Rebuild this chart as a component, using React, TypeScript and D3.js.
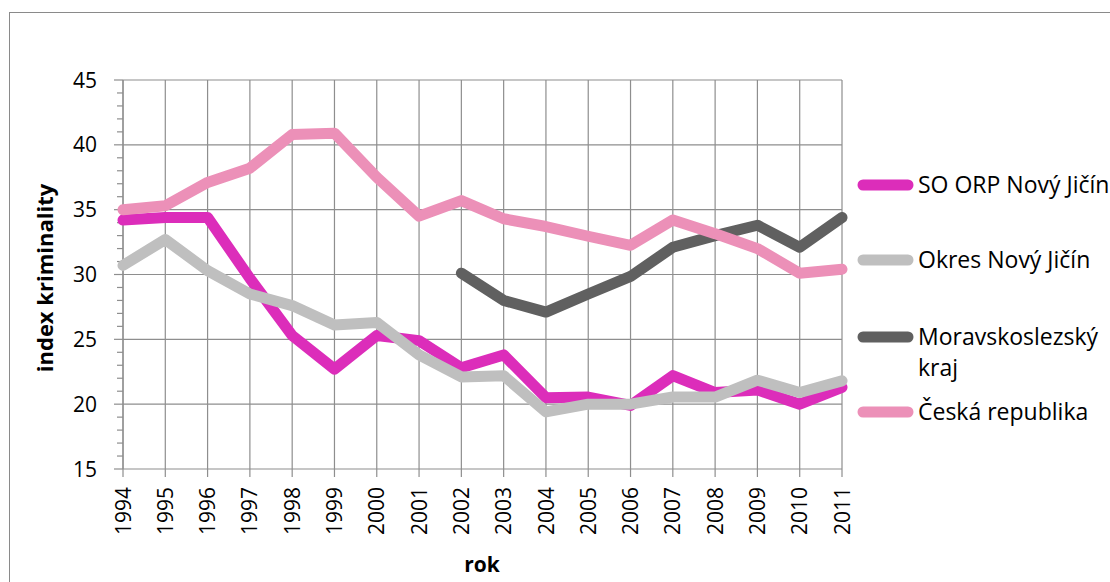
import React from 'react';
import * as d3 from 'd3';

const years = ['1994', '1995', '1996', '1997', '1998', '1999', '2000', '2001', '2002', '2003', '2004', '2005', '2006', '2007', '2008', '2009', '2010', '2011'];

const soOrp = [34.2, 34.4, 34.4, 29.7, 25.3, 22.7, 25.3, 24.9, 22.8, 23.8, 20.5, 20.55, 19.9, 22.2, 20.9, 21.1, 20.0, 21.3];
const okres = [30.7, 32.7, 30.3, 28.5, 27.6, 26.1, 26.3, 23.8, 22.1, 22.2, 19.4, 20.0, 20.0, 20.55, 20.55, 21.85, 20.9, 21.8];
const msKraj: (number | null)[] = [null, null, null, null, null, null, null, null, 30.1, 28.0, 27.1, 28.5, 29.85, 32.1, 33.0, 33.8, 32.1, 34.4];
const ceskaRep = [35.0, 35.3, 37.1, 38.2, 40.8, 40.9, 37.5, 34.5, 35.7, 34.3, 33.7, 32.95, 32.25, 34.2, 33.15, 32.0, 30.1, 30.4];

const seriesNames = ['SO ORP Nový Jičín', 'Okres Nový Jičín', 'Moravskoslezský kraj', 'Česká republika'];
const seriesColors = ['#DC2DBA', '#BFBFBF', '#606060', '#EC90B8'];
const yTicks = [15, 20, 25, 30, 35, 40, 45];

const FONT = '"Open Sans", Lato, sans-serif';

export default function App() {
  const width = 1110;
  const height = 582;
  const left = 123, right = 842, top = 80, bottom = 469;

  const x = d3.scalePoint<string>().domain(years).range([left, right]);
  const y = d3.scaleLinear().domain([15, 45]).range([bottom, top]);

  const all = [soOrp, okres, msKraj, ceskaRep];
  const line = d3.line<number | null>()
    .defined(d => d != null)
    .x((_, i) => x(years[i]) as number)
    .y(d => y(d as number));

  const minorTicks = d3.range(15, 45.01, 1);
  const legendY = [185, 260, 337, 412];

  return (
    <svg width={width} height={height} style={{ position: 'absolute', left: 0, top: 0, fontFamily: FONT }}>
      <rect x={0} y={0} width={width} height={height} fill="#fff" />
      <rect x={9.5} y={12.5} width={1200} height={700} fill="none" stroke="#8a8a8a" strokeWidth={1} />

      {/* grid */}
      {yTicks.map(t => (
        <line key={'h' + t} x1={left} x2={right} y1={y(t)} y2={y(t)} stroke="#8e8e8e" strokeWidth={1.2} />
      ))}
      {years.map(yr => (
        <line key={'v' + yr} x1={x(yr)} x2={x(yr)} y1={top} y2={bottom + 8} stroke="#8e8e8e" strokeWidth={1.2} />
      ))}
      {minorTicks.map(t => (
        <line key={'m' + t} x1={t % 5 === 0 ? 114 : 117} x2={left} y1={y(t)} y2={y(t)} stroke="#8e8e8e" strokeWidth={1.2} />
      ))}
      <line x1={left} x2={left} y1={top} y2={bottom} stroke="#8e8e8e" strokeWidth={1.2} />

      {/* y labels */}
      {yTicks.map(t => (
        <text key={'yl' + t} x={97} y={y(t)} dy="0.36em" textAnchor="end" fontSize={21} fill="#000">{t}</text>
      ))}
      {/* x labels */}
      {years.map(yr => (
        <text key={'xl' + yr} transform={`translate(${x(yr)},487) rotate(-90)`} dy="0.36em" textAnchor="end" fontSize={21} fill="#000">{yr}</text>
      ))}

      {/* series */}
      {all.map((s, i) => (
        <path key={'s' + i} d={line(s) || ''} fill="none" stroke={seriesColors[i]} strokeWidth={11} strokeLinejoin="round" strokeLinecap="round" />
      ))}

      {/* axis titles */}
      <text x={482} y={572} textAnchor="middle" fontSize={21} fontWeight="bold">rok</text>
      <text transform={`translate(45,278) rotate(-90)`} dy="0.36em" textAnchor="middle" fontSize={22} fontWeight="bold">index kriminality</text>

      {/* legend */}
      {seriesNames.map((name, i) => (
        <g key={'lg' + i}>
          <line x1={863} x2={908} y1={legendY[i]} y2={legendY[i]} stroke={seriesColors[i]} strokeWidth={11} strokeLinecap="round" />
          {i === 2 ? (
            <text x={918} y={legendY[i]} dy="0.36em" fontSize={23}>
              <tspan x={918}>Moravskoslezský</tspan>
              <tspan x={918} dy={31}>kraj</tspan>
            </text>
          ) : (
            <text x={918} y={legendY[i]} dy="0.36em" fontSize={23}>{name}</text>
          )}
        </g>
      ))}
    </svg>
  );
}
